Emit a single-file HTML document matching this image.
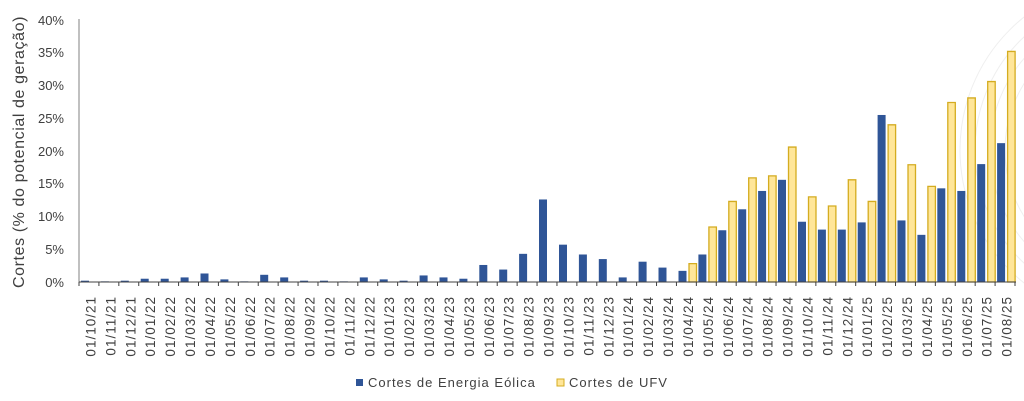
<!DOCTYPE html>
<html><head><meta charset="utf-8"><style>
html,body{margin:0;padding:0;background:#fff;}
svg{display:block;font-family:"Liberation Sans",sans-serif;fill:#404040;}
</style></head><body>
<svg width="1024" height="401" viewBox="0 0 1024 401" xmlns="http://www.w3.org/2000/svg">
<g fill="none" stroke="#efefef" stroke-width="1">
<circle cx="1130" cy="150" r="170"/><circle cx="1130" cy="150" r="155"/><circle cx="1130" cy="150" r="140"/><circle cx="1130" cy="150" r="125"/>
</g>
<text transform="translate(24,152) rotate(-90)" text-anchor="middle" font-size="16" letter-spacing="0.6">Cortes (% do potencial de geração)</text>
<g font-size="13" text-anchor="end">
<text x="64" y="287">0%</text><text x="64" y="254">5%</text><text x="64" y="221">10%</text><text x="64" y="188">15%</text><text x="64" y="156">20%</text><text x="64" y="123">25%</text><text x="64" y="90">30%</text><text x="64" y="57">35%</text><text x="64" y="25">40%</text>
</g>
<line x1="79" y1="19" x2="79" y2="282" stroke="#808080"/>
<g transform="translate(0,282) scale(1,-6.55)">
<g fill="#2f5597">
<rect x="81" y="0" width="8" height="0.2"/><rect x="100.9" y="0" width="8" height="0.1"/><rect x="120.8" y="0" width="8" height="0.2"/><rect x="140.7" y="0" width="8" height="0.5"/><rect x="160.7" y="0" width="8" height="0.5"/><rect x="180.6" y="0" width="8" height="0.7"/><rect x="200.5" y="0" width="8" height="1.3"/><rect x="220.4" y="0" width="8" height="0.4"/><rect x="240.3" y="0" width="8" height="0.1"/><rect x="260.2" y="0" width="8" height="1.1"/><rect x="280.2" y="0" width="8" height="0.7"/><rect x="300.1" y="0" width="8" height="0.2"/><rect x="320" y="0" width="8" height="0.2"/><rect x="339.9" y="0" width="8" height="0.1"/><rect x="359.8" y="0" width="8" height="0.7"/><rect x="379.7" y="0" width="8" height="0.4"/><rect x="399.6" y="0" width="8" height="0.2"/><rect x="419.6" y="0" width="8" height="1.0"/><rect x="439.5" y="0" width="8" height="0.7"/><rect x="459.4" y="0" width="8" height="0.5"/><rect x="479.3" y="0" width="8" height="2.6"/><rect x="499.2" y="0" width="8" height="1.9"/><rect x="519.1" y="0" width="8" height="4.3"/><rect x="539" y="0" width="8" height="12.6"/><rect x="559" y="0" width="8" height="5.7"/><rect x="578.9" y="0" width="8" height="4.2"/><rect x="598.8" y="0" width="8" height="3.5"/><rect x="618.7" y="0" width="8" height="0.7"/><rect x="638.6" y="0" width="8" height="3.1"/><rect x="658.5" y="0" width="8" height="2.2"/><rect x="678.5" y="0" width="8" height="1.7"/><rect x="698.4" y="0" width="8" height="4.2"/><rect x="718.3" y="0" width="8" height="7.9"/><rect x="738.2" y="0" width="8" height="11.1"/><rect x="758.1" y="0" width="8" height="13.9"/><rect x="778" y="0" width="8" height="15.6"/><rect x="798" y="0" width="8" height="9.2"/><rect x="817.9" y="0" width="8" height="8.0"/><rect x="837.8" y="0" width="8" height="8.0"/><rect x="857.7" y="0" width="8" height="9.1"/><rect x="877.6" y="0" width="8" height="25.5"/><rect x="897.5" y="0" width="8" height="9.4"/><rect x="917.4" y="0" width="8" height="7.2"/><rect x="937.3" y="0" width="8" height="14.3"/><rect x="957.3" y="0" width="8" height="13.9"/><rect x="977.2" y="0" width="8" height="18.0"/><rect x="997.1" y="0" width="8" height="21.2"/>
</g>
<g fill="#ffe699" stroke="#d4ac20" stroke-width="1.3">
<rect x="689" y="0" width="7.5" height="2.8" vector-effect="non-scaling-stroke"/><rect x="708.9" y="0" width="7.5" height="8.4" vector-effect="non-scaling-stroke"/><rect x="728.8" y="0" width="7.5" height="12.3" vector-effect="non-scaling-stroke"/><rect x="748.7" y="0" width="7.5" height="15.9" vector-effect="non-scaling-stroke"/><rect x="768.6" y="0" width="7.5" height="16.2" vector-effect="non-scaling-stroke"/><rect x="788.5" y="0" width="7.5" height="20.6" vector-effect="non-scaling-stroke"/><rect x="808.5" y="0" width="7.5" height="13.0" vector-effect="non-scaling-stroke"/><rect x="828.4" y="0" width="7.5" height="11.6" vector-effect="non-scaling-stroke"/><rect x="848.3" y="0" width="7.5" height="15.6" vector-effect="non-scaling-stroke"/><rect x="868.2" y="0" width="7.5" height="12.3" vector-effect="non-scaling-stroke"/><rect x="888.1" y="0" width="7.5" height="24.0" vector-effect="non-scaling-stroke"/><rect x="908" y="0" width="7.5" height="17.9" vector-effect="non-scaling-stroke"/><rect x="927.9" y="0" width="7.5" height="14.6" vector-effect="non-scaling-stroke"/><rect x="947.8" y="0" width="7.5" height="27.4" vector-effect="non-scaling-stroke"/><rect x="967.8" y="0" width="7.5" height="28.1" vector-effect="non-scaling-stroke"/><rect x="987.7" y="0" width="7.5" height="30.6" vector-effect="non-scaling-stroke"/><rect x="1007.6" y="0" width="7.5" height="35.2" vector-effect="non-scaling-stroke"/>
</g>
</g>
<line x1="79" y1="282" x2="1016" y2="282" stroke="#404040"/>
<line x1="78.5" y1="284" x2="1017" y2="284" stroke="#404040" stroke-width="4" stroke-dasharray="1 18.915"/>
<g font-size="13.5" text-anchor="end" letter-spacing="1">
<text transform="translate(95.5,296) rotate(-90)">01/10/21</text><text transform="translate(115.4,296) rotate(-90)">01/11/21</text><text transform="translate(135.3,296) rotate(-90)">01/12/21</text><text transform="translate(155.2,296) rotate(-90)">01/01/22</text><text transform="translate(175.2,296) rotate(-90)">01/02/22</text><text transform="translate(195.1,296) rotate(-90)">01/03/22</text><text transform="translate(215,296) rotate(-90)">01/04/22</text><text transform="translate(234.9,296) rotate(-90)">01/05/22</text><text transform="translate(254.8,296) rotate(-90)">01/06/22</text><text transform="translate(274.7,296) rotate(-90)">01/07/22</text><text transform="translate(294.7,296) rotate(-90)">01/08/22</text><text transform="translate(314.6,296) rotate(-90)">01/09/22</text><text transform="translate(334.5,296) rotate(-90)">01/10/22</text><text transform="translate(354.4,296) rotate(-90)">01/11/22</text><text transform="translate(374.3,296) rotate(-90)">01/12/22</text><text transform="translate(394.2,296) rotate(-90)">01/01/23</text><text transform="translate(414.1,296) rotate(-90)">01/02/23</text><text transform="translate(434.1,296) rotate(-90)">01/03/23</text><text transform="translate(454,296) rotate(-90)">01/04/23</text><text transform="translate(473.9,296) rotate(-90)">01/05/23</text><text transform="translate(493.8,296) rotate(-90)">01/06/23</text><text transform="translate(513.7,296) rotate(-90)">01/07/23</text><text transform="translate(533.6,296) rotate(-90)">01/08/23</text><text transform="translate(553.5,296) rotate(-90)">01/09/23</text><text transform="translate(573.5,296) rotate(-90)">01/10/23</text><text transform="translate(593.4,296) rotate(-90)">01/11/23</text><text transform="translate(613.3,296) rotate(-90)">01/12/23</text><text transform="translate(633.2,296) rotate(-90)">01/01/24</text><text transform="translate(653.1,296) rotate(-90)">01/02/24</text><text transform="translate(673,296) rotate(-90)">01/03/24</text><text transform="translate(693,296) rotate(-90)">01/04/24</text><text transform="translate(712.9,296) rotate(-90)">01/05/24</text><text transform="translate(732.8,296) rotate(-90)">01/06/24</text><text transform="translate(752.7,296) rotate(-90)">01/07/24</text><text transform="translate(772.6,296) rotate(-90)">01/08/24</text><text transform="translate(792.5,296) rotate(-90)">01/09/24</text><text transform="translate(812.5,296) rotate(-90)">01/10/24</text><text transform="translate(832.4,296) rotate(-90)">01/11/24</text><text transform="translate(852.3,296) rotate(-90)">01/12/24</text><text transform="translate(872.2,296) rotate(-90)">01/01/25</text><text transform="translate(892.1,296) rotate(-90)">01/02/25</text><text transform="translate(912,296) rotate(-90)">01/03/25</text><text transform="translate(931.9,296) rotate(-90)">01/04/25</text><text transform="translate(951.8,296) rotate(-90)">01/05/25</text><text transform="translate(971.8,296) rotate(-90)">01/06/25</text><text transform="translate(991.7,296) rotate(-90)">01/07/25</text><text transform="translate(1011.6,296) rotate(-90)">01/08/25</text>
</g>
<rect x="356" y="379" width="7" height="7" fill="#2f5597"/>
<text x="368" y="387" font-size="13" letter-spacing="1">Cortes de Energia Eólica</text>
<rect x="557" y="379" width="7" height="7" fill="#ffe699" stroke="#d4ac20"/>
<text x="569" y="387" font-size="13" letter-spacing="1">Cortes de UFV</text>
</svg>
</body></html>
